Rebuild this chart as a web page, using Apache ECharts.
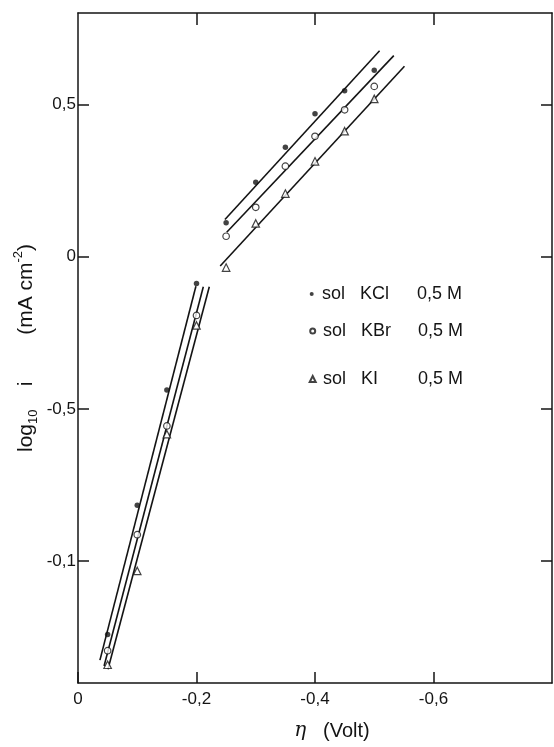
<!DOCTYPE html>
<html><head><meta charset="utf-8">
<script src="https://cdn.jsdelivr.net/npm/echarts@6/dist/echarts.min.js"></script>
<style>html,body{margin:0;padding:0;background:#fff}#c{width:554px;height:747px}</style>
</head><body><div id="c"></div>
<script>
// overpotential eta (Volt)
const eta = [-0.05, -0.10, -0.15, -0.20, -0.25, -0.30, -0.35, -0.40, -0.45, -0.50];
// log10 i (mA cm^-2)
const logiKCl = [-1.241, -0.816, -0.438, -0.088, 0.111, 0.244, 0.359, 0.469, 0.545, 0.612];
const logiKBr = [-1.294, -0.913, -0.556, -0.193, 0.067, 0.162, 0.297, 0.395, 0.482, 0.559];
const logiKI  = [-1.340, -1.032, -0.583, -0.226, -0.036, 0.109, 0.207, 0.313, 0.412, 0.518];
// fitted straight lines (end points)
const fitKClLow = [[-0.037, -1.325], [-0.199, -0.097]];
const fitKClHigh = [[-0.248, 0.122], [-0.509, 0.676]];
const fitKBrLow = [[-0.044, -1.344], [-0.2115, -0.099]];
const fitKBrHigh = [[-0.251, 0.080], [-0.533, 0.660]];
const fitKILow = [[-0.0506, -1.355], [-0.2216, -0.099]];
const fitKIHigh = [[-0.240, -0.031], [-0.551, 0.625]];
// ticks
const xTickValues = [0, -0.2, -0.4, -0.6];
const xTickLabels = ['0', '-0,2', '-0,4', '-0,6'];
const yTickValues = [0.5, 0, -0.5, -1];
const yTickLabels = ['0,5', '0', '-0,5', '-0,1'];
// legend
const seriesNames = ['KCl', 'KBr', 'KI'];
const legendSalt = ['KCl', 'KBr', 'KI'];
const legendConc = ['0,5 M', '0,5 M', '0,5 M'];

const FONT = 'Liberation Sans, Arial, sans-serif';
const INK = '#141414';
const pts = ys => eta.map((x, i) => [x, ys[i]]);

const chart = echarts.init(document.getElementById('c'), null, {renderer: 'canvas'});

const axisLine = {show: true, onZero: false, lineStyle: {color: INK, width: 1.5}};
const tickStyle = {color: INK, width: 1.5};

const lineSeries = (name, d) => ({
  name: name, type: 'line', data: d, xAxisIndex: 0, yAxisIndex: 0,
  symbol: 'none', silent: true, lineStyle: {color: INK, width: 1.6}, z: 2
});

const legendTops = [284, 321, 369];
const legendSizes = [4, 5, 6];
const legendCenterX = 311.7;
const legendTextX = 322;

const option = {
  backgroundColor: '#fff',
  animation: false,
  grid: {left: 78, right: 2, top: 13, bottom: 64},
  xAxis: [{
    type: 'value', min: -0.8, max: 0, inverse: true, position: 'bottom',
    name: '{e|η}{n|   (Volt)}', nameLocation: 'middle', nameGap: 38,
    nameTextStyle: {padding: [0, 0, 0, 34], rich: {
      e: {fontFamily: 'DejaVu Serif', fontStyle: 'italic', fontSize: 20, color: INK},
      n: {fontFamily: FONT, fontSize: 20, color: INK}
    }},
    axisLine: axisLine,
    axisTick: {show: true, inside: true, length: 11, lineStyle: tickStyle, customValues: xTickValues},
    axisLabel: {show: true, margin: 8, fontSize: 17, fontFamily: FONT, color: INK,
      customValues: xTickValues,
      formatter: v => { const i = xTickValues.findIndex(t => Math.abs(t - v) < 1e-9); return i < 0 ? '' : xTickLabels[i]; }},
    splitLine: {show: false}
  }, {
    type: 'value', min: -0.8, max: 0, inverse: true, position: 'top',
    axisLine: axisLine,
    axisTick: {show: true, inside: true, length: 12, lineStyle: tickStyle, customValues: [-0.2, -0.4, -0.6]},
    axisLabel: {show: false},
    splitLine: {show: false}
  }],
  yAxis: [{
    type: 'value', min: -1.4, max: 0.8, position: 'left',
    name: '{n|log}{sub|10}{n|    i}{n|        (mA cm}{sup|-2}{n|)}',
    nameLocation: 'middle', nameRotate: 90, nameGap: 38, nameMoveOverlap: false,
    nameTextStyle: {rich: {
      n: {fontFamily: FONT, fontSize: 21, color: INK, lineHeight: 28},
      sub: {fontFamily: FONT, fontSize: 13, color: INK, lineHeight: 13, verticalAlign: 'bottom'},
      sup: {fontFamily: FONT, fontSize: 13, color: INK, lineHeight: 13, verticalAlign: 'top'}
    }},
    axisLine: axisLine,
    axisTick: {show: true, inside: true, length: 11, lineStyle: tickStyle, customValues: yTickValues},
    axisLabel: {show: true, margin: 2, fontSize: 17, fontFamily: FONT, color: INK,
      customValues: yTickValues,
      formatter: v => { const i = yTickValues.findIndex(t => Math.abs(t - v) < 1e-9); return i < 0 ? '' : yTickLabels[i]; }},
    splitLine: {show: false}
  }, {
    type: 'value', min: -1.4, max: 0.8, position: 'right',
    axisLine: axisLine,
    axisTick: {show: true, inside: true, length: 11, lineStyle: tickStyle, customValues: yTickValues},
    axisLabel: {show: false},
    splitLine: {show: false}
  }],
  legend: seriesNames.map((nm, i) => {
    const s = legendSizes[i];
    const left = legendCenterX - s / 2;
    const pad = legendTextX - (left + s + 5);
    return {
      data: [nm], left: left, top: legendTops[i], padding: 0,
      itemWidth: s, itemHeight: s, selectedMode: false,
      formatter: () => '{a|sol}{b|' + legendSalt[i] + '}{c|' + legendConc[i] + '}',
      textStyle: {fontFamily: FONT, fontSize: 18, color: INK, lineHeight: 20, rich: {
        a: {fontFamily: FONT, fontSize: 18, color: INK, width: 38, padding: [0, 0, 0, pad]},
        b: {fontFamily: FONT, fontSize: 18, color: INK, width: 57},
        c: {fontFamily: FONT, fontSize: 18, color: INK}
      }}
    };
  }),
  series: [
    lineSeries('KCl fit a', fitKClLow), lineSeries('KCl fit b', fitKClHigh),
    lineSeries('KBr fit a', fitKBrLow), lineSeries('KBr fit b', fitKBrHigh),
    lineSeries('KI fit a', fitKILow), lineSeries('KI fit b', fitKIHigh),
    {name: 'KCl', type: 'scatter', data: pts(logiKCl), symbol: 'circle', symbolSize: 5.5,
      itemStyle: {color: INK, borderColor: INK, borderWidth: 0}, z: 3},
    {name: 'KBr', type: 'scatter', data: pts(logiKBr), symbol: 'circle', symbolSize: 6.5,
      itemStyle: {color: '#fff', borderColor: INK, borderWidth: 1.2}, z: 3},
    {name: 'KI', type: 'scatter', data: pts(logiKI), symbol: 'triangle', symbolSize: 7.5,
      itemStyle: {color: '#fff', borderColor: INK, borderWidth: 1.2}, z: 3}
  ]
};
chart.setOption(option);
</script></body></html>
